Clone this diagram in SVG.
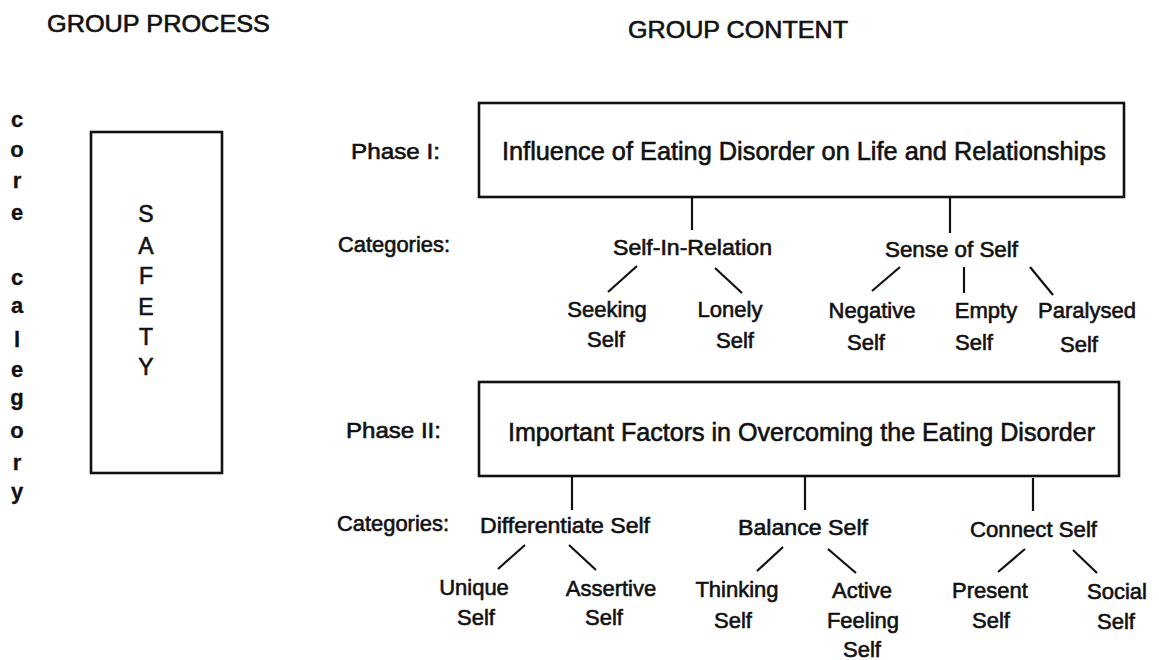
<svg xmlns="http://www.w3.org/2000/svg" width="1159" height="660" viewBox="0 0 1159 660">
<style>
text{font-family:"Liberation Sans",Arial,sans-serif;fill:#111;stroke:#111;stroke-width:0.6;font-size:22px}
.c{text-anchor:middle}
.t{font-size:25px}
.hd{font-size:23px}
.v{font-size:22px;font-weight:bold;text-anchor:middle;stroke-width:0.3}
.s{font-size:23px;text-anchor:middle}
.box{fill:#fff;stroke:#111;stroke-width:2.6}
.ln{stroke:#111;stroke-width:2.2;fill:none}
</style>
<rect width="1159" height="660" fill="#fff"/>
<g id="headers">
<text class="hd" x="47" y="32" textLength="223" lengthAdjust="spacingAndGlyphs">GROUP PROCESS</text>
<text class="hd" x="628" y="38" textLength="220" lengthAdjust="spacingAndGlyphs">GROUP CONTENT</text>
</g>
<g id="core-category">
<text class="v" x="17" y="127">c</text>
<text class="v" x="17" y="157">o</text>
<text class="v" x="17" y="188">r</text>
<text class="v" x="17" y="220">e</text>
<text class="v" x="17" y="285">c</text>
<text class="v" x="17" y="313">a</text>
<text class="v" x="17" y="347">l</text>
<text class="v" x="17" y="377">e</text>
<text class="v" x="17" y="405">g</text>
<text class="v" x="17" y="438">o</text>
<text class="v" x="17" y="470">r</text>
<text class="v" x="17" y="499">y</text>
</g>
<g id="safety">
<rect class="box" x="91" y="132" width="131" height="341"/>
<text class="s" x="146" y="222">S</text>
<text class="s" x="146" y="254">A</text>
<text class="s" x="146" y="284">F</text>
<text class="s" x="146" y="315">E</text>
<text class="s" x="146" y="345">T</text>
<text class="s" x="146" y="375">Y</text>
</g>
<g id="connectors">
<line class="ln" x1="692" y1="197" x2="692" y2="230"/>
<line class="ln" x1="950" y1="198" x2="950" y2="233"/>
<line class="ln" x1="637" y1="266" x2="608" y2="292"/>
<line class="ln" x1="715" y1="268" x2="742" y2="293"/>
<line class="ln" x1="900" y1="267" x2="872" y2="291"/>
<line class="ln" x1="964" y1="267" x2="964" y2="293"/>
<line class="ln" x1="1030" y1="267" x2="1053" y2="295"/>
<line class="ln" x1="572" y1="476" x2="572" y2="510"/>
<line class="ln" x1="805" y1="477" x2="805" y2="510"/>
<line class="ln" x1="1033" y1="478" x2="1033" y2="511"/>
<line class="ln" x1="525" y1="545" x2="498" y2="569"/>
<line class="ln" x1="569" y1="545" x2="596" y2="570"/>
<line class="ln" x1="783" y1="547" x2="757" y2="571"/>
<line class="ln" x1="828" y1="549" x2="856" y2="573"/>
<line class="ln" x1="1025" y1="549" x2="998" y2="572"/>
<line class="ln" x1="1073" y1="550" x2="1097" y2="573"/>
</g>
<g id="phase1">
<text x="351" y="159" textLength="89" lengthAdjust="spacingAndGlyphs">Phase I:</text>
<rect class="box" x="479" y="103" width="645" height="94"/>
<text class="t" x="502" y="160" textLength="604" lengthAdjust="spacingAndGlyphs">Influence of Eating Disorder on Life and Relationships</text>
<text x="338" y="252" textLength="112" lengthAdjust="spacingAndGlyphs">Categories:</text>
</g>
<g id="self-in-relation"><text x="613" y="255" textLength="159" lengthAdjust="spacingAndGlyphs">Self-In-Relation</text></g>
<g id="sense-of-self"><text x="885" y="257" textLength="133" lengthAdjust="spacingAndGlyphs">Sense of Self</text></g>
<g id="seeking-self"><text class="c" x="607" y="317">Seeking</text><text class="c" x="606" y="347">Self</text></g>
<g id="lonely-self"><text class="c" x="730" y="317">Lonely</text><text class="c" x="735" y="348">Self</text></g>
<g id="negative-self"><text class="c" x="872" y="318">Negative</text><text class="c" x="866" y="350">Self</text></g>
<g id="empty-self"><text class="c" x="986" y="318">Empty</text><text class="c" x="974" y="350">Self</text></g>
<g id="paralysed-self"><text class="c" x="1087" y="318">Paralysed</text><text class="c" x="1079" y="352">Self</text></g>
<g id="phase2">
<text x="346" y="438" textLength="95" lengthAdjust="spacingAndGlyphs">Phase II:</text>
<rect class="box" x="479" y="382" width="640" height="94"/>
<text class="t" x="508" y="441" textLength="587" lengthAdjust="spacingAndGlyphs">Important Factors in Overcoming the Eating Disorder</text>
<text x="337" y="531" textLength="112" lengthAdjust="spacingAndGlyphs">Categories:</text>
</g>
<g id="differentiate-self"><text x="480" y="533" textLength="170" lengthAdjust="spacingAndGlyphs">Differentiate Self</text></g>
<g id="balance-self"><text x="738" y="535" textLength="130" lengthAdjust="spacingAndGlyphs">Balance Self</text></g>
<g id="connect-self"><text x="970" y="537" textLength="127" lengthAdjust="spacingAndGlyphs">Connect Self</text></g>
<g id="unique-self"><text class="c" x="474" y="595">Unique</text><text class="c" x="476" y="625">Self</text></g>
<g id="assertive-self"><text class="c" x="611" y="596">Assertive</text><text class="c" x="604" y="625">Self</text></g>
<g id="thinking-self"><text class="c" x="737" y="597">Thinking</text><text class="c" x="733" y="628">Self</text></g>
<g id="active-feeling-self"><text class="c" x="862" y="598">Active</text><text class="c" x="863" y="628">Feeling</text><text class="c" x="862" y="657">Self</text></g>
<g id="present-self"><text class="c" x="990" y="598">Present</text><text class="c" x="991" y="628">Self</text></g>
<g id="social-self"><text class="c" x="1117" y="599">Social</text><text class="c" x="1116" y="629">Self</text></g>
</svg>
